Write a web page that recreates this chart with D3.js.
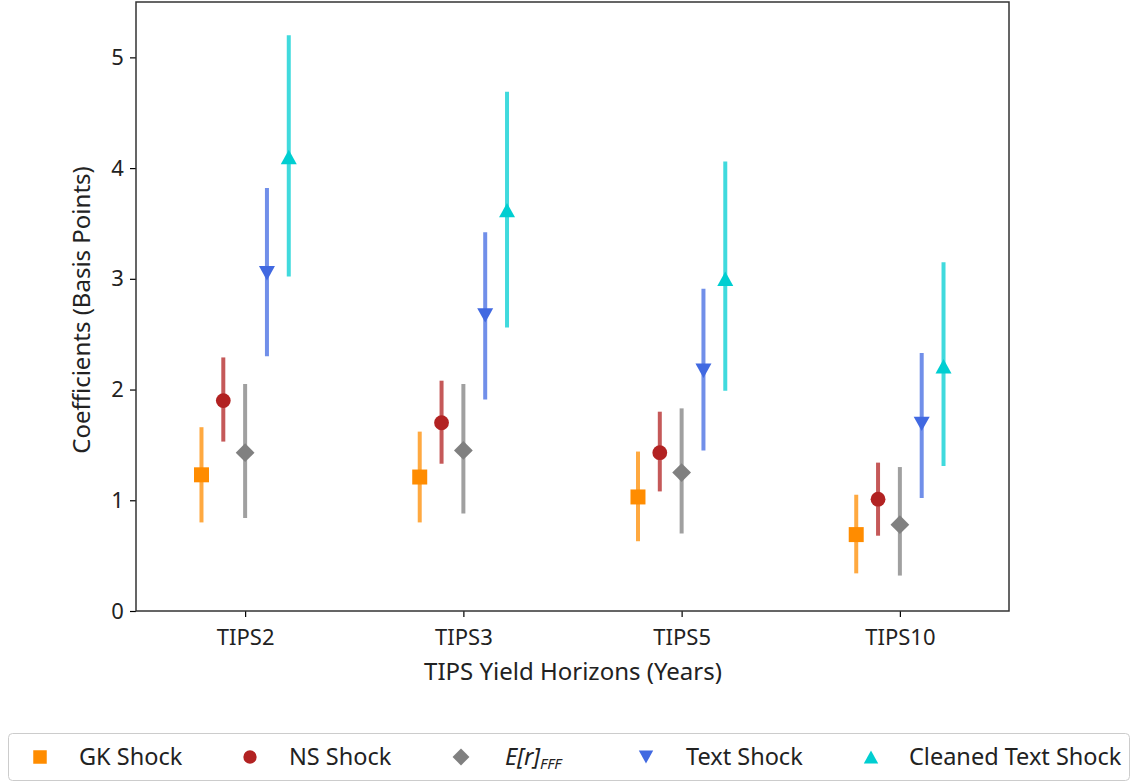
<!DOCTYPE html>
<html><head><meta charset="utf-8">
<script src="https://cdn.jsdelivr.net/npm/d3@7"></script>
<style>body{margin:0;background:#fff;} svg{display:block;}</style>
</head><body>
<script>
const categories = ["TIPS2", "TIPS3", "TIPS5", "TIPS10"];
const seriesNames = ["GK Shock", "NS Shock", "E[r]_FFF", "Text Shock", "Cleaned Text Shock"];
const seriesColors = ["#ff8c00", "#b22222", "#808080", "#4169e1", "#00ced1"];
const seriesOffsets = [-0.2, -0.1, 0, 0.1, 0.2];
const gkValues      = [1.23, 1.21, 1.03, 0.69];
const gkLow         = [0.80, 0.80, 0.63, 0.34];
const gkHigh        = [1.66, 1.62, 1.44, 1.05];
const nsValues      = [1.90, 1.70, 1.43, 1.01];
const nsLow         = [1.53, 1.33, 1.08, 0.68];
const nsHigh        = [2.29, 2.08, 1.80, 1.34];
const erValues      = [1.43, 1.45, 1.25, 0.78];
const erLow         = [0.84, 0.88, 0.70, 0.32];
const erHigh        = [2.05, 2.05, 1.83, 1.30];
const textValues    = [3.05, 2.67, 2.17, 1.69];
const textLow       = [2.30, 1.91, 1.45, 1.02];
const textHigh      = [3.82, 3.42, 2.91, 2.33];
const cleanValues   = [4.10, 3.62, 3.00, 2.21];
const cleanLow      = [3.02, 2.56, 1.99, 1.31];
const cleanHigh     = [5.20, 4.69, 4.06, 3.15];
const yTicks = [0, 1, 2, 3, 4, 5];

const series = [
  {v: gkValues, lo: gkLow, hi: gkHigh, sym: "square"},
  {v: nsValues, lo: nsLow, hi: nsHigh, sym: "circle"},
  {v: erValues, lo: erLow, hi: erHigh, sym: "diamond"},
  {v: textValues, lo: textLow, hi: textHigh, sym: "down"},
  {v: cleanValues, lo: cleanLow, hi: cleanHigh, sym: "up"}
];

const W = 1133, H = 784;
const font = "'Noto Sans', 'Open Sans', sans-serif";
const svg = d3.select("body").append("svg").attr("width", W).attr("height", H);
const mLeft = 136, mRight = 1009, mTop = 2, mBottom = 611;
const x = d3.scaleLinear().domain([-0.5, 3.5]).range([mLeft, mRight]);
const y = d3.scaleLinear().domain([0, 5.5]).range([mBottom, mTop]);

function markerPath(sym, k) {
  if (sym === "square") return d3.symbol().type(d3.symbolSquare).size(225 * k * k)();
  if (sym === "circle") return d3.symbol().type(d3.symbolCircle).size(172 * k * k)();
  if (sym === "diamond") { const s = 9.4 * k; return `M0,${-s}L${s},0L0,${s}L${-s},0Z`; }
  const w = 8 * k, h = 7.2 * k;
  if (sym === "down") return `M${-w},${-h}L${w},${-h}L0,${h}Z`;
  return `M${-w},${h}L${w},${h}L0,${-h}Z`;
}

// axes
const xAxis = svg.append("g").attr("transform", `translate(0,${mBottom})`)
  .call(d3.axisBottom(x).tickValues([0,1,2,3]).tickFormat(i => categories[i]).tickSize(6).tickSizeOuter(0));
const yAxis = svg.append("g").attr("transform", `translate(${mLeft},0)`)
  .call(d3.axisLeft(y).tickValues(yTicks).tickFormat(d3.format("d")).tickSize(6).tickSizeOuter(0));
[xAxis, yAxis].forEach(a => {
  a.select(".domain").remove();
  a.selectAll("line").attr("stroke", "#000").attr("stroke-width", 1.2);
  a.selectAll("text").attr("font-family", font).attr("font-size", 22).attr("fill", "#222");
});
xAxis.selectAll("text").attr("dy", "1.14em");
yAxis.selectAll("text").attr("dx", "-0.14em");

// frame
svg.append("rect").attr("x", mLeft).attr("y", mTop).attr("width", mRight - mLeft).attr("height", mBottom - mTop)
  .attr("fill", "none").attr("stroke", "#333").attr("stroke-width", 1.5);

// data
series.forEach((s, si) => {
  const g = svg.append("g");
  categories.forEach((c, ci) => {
    const cx = x(ci + seriesOffsets[si]);
    g.append("line").attr("x1", cx).attr("x2", cx)
      .attr("y1", y(s.lo[ci])).attr("y2", y(s.hi[ci]))
      .attr("stroke", seriesColors[si]).attr("stroke-width", 4).attr("stroke-opacity", 0.75);
    g.append("path").attr("d", markerPath(s.sym, 1))
      .attr("transform", `translate(${cx},${y(s.v[ci])})`)
      .attr("fill", seriesColors[si]);
  });
});

// axis labels
svg.append("text").attr("x", 573).attr("y", 680).attr("text-anchor", "middle")
  .attr("font-family", font).attr("font-size", 24).attr("fill", "#222").text("TIPS Yield Horizons (Years)");
svg.append("text").attr("transform", `translate(90,310) rotate(-90)`).attr("text-anchor", "middle")
  .attr("font-family", font).attr("font-size", 24).attr("fill", "#222").text("Coefficients (Basis Points)");

// legend
svg.append("rect").attr("x", 8.5).attr("y", 733.5).attr("width", 1121).attr("height", 47).attr("rx", 4)
  .attr("fill", "#fff").attr("stroke", "#ccc").attr("stroke-width", 1);
const legX = [40, 250, 461, 646, 871];
const legTX = [79, 289, 505, 686, 909];
const legY = 757;
series.forEach((s, si) => {
  svg.append("path").attr("d", markerPath(s.sym, 0.9))
    .attr("transform", `translate(${legX[si]},${legY})`).attr("fill", seriesColors[si]);
  const t = svg.append("text").attr("x", legTX[si]).attr("y", legY + 8)
    .attr("font-family", font).attr("font-size", 23.5).attr("fill", "#222");
  if (si === 2) {
    t.append("tspan").attr("font-style", "italic").text("E[r]");
    t.append("tspan").attr("font-style", "italic").attr("font-size", 15).attr("dy", 4).text("FFF");
  } else {
    t.text(seriesNames[si]);
  }
});
</script>
</body></html>
